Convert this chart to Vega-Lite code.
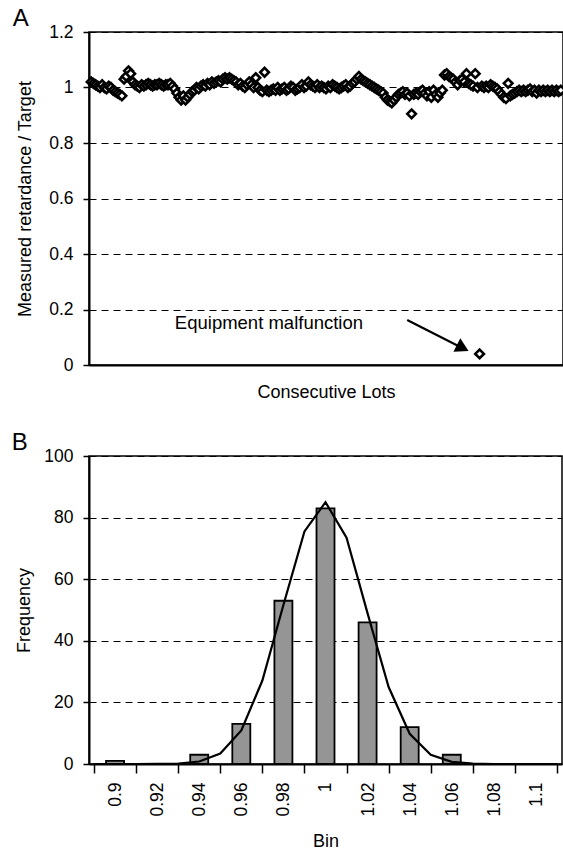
{
  "$schema": "https://vega.github.io/schema/vega-lite/v6.json",
  "background": "white",
  "padding": {"left": 11, "top": 6, "right": 1, "bottom": 2},
  "spacing": 28,
  "config": {
    "font": "Liberation Sans",
    "view": {"stroke": "black", "strokeWidth": 1.5},
    "axis": {
      "labelFont": "Liberation Sans", "titleFont": "Liberation Sans",
      "labelFontSize": 17.5, "titleFontSize": 18, "titleFontWeight": "normal",
      "labelColor": "black", "titleColor": "black",
      "domainColor": "black", "domainWidth": 2,
      "tickColor": "black", "tickWidth": 1.5, "tickSize": 6, "labelPadding": 10,
      "gridColor": "black", "gridDash": [7, 5], "gridWidth": 1
    },
    "title": {"font": "Liberation Sans", "fontSize": 24, "fontWeight": "normal", "anchor": "start", "color": "black", "frame": "bounds"}
  },
  "vconcat": [
    {
      "width": 474, "height": 333,
      "title": {"text": "A", "offset": -8, "dx": -4},
      "layer": [
        {
          "data": {"values": [
            {"lot":1,"ratio":1.02},{"lot":2,"ratio":1.015},{"lot":3,"ratio":1.01},{"lot":4,"ratio":1.005},{"lot":5,"ratio":1.0},
            {"lot":6,"ratio":1.01},{"lot":7,"ratio":1.0},{"lot":8,"ratio":0.995},{"lot":9,"ratio":1.005},{"lot":10,"ratio":1.0},
            {"lot":11,"ratio":0.99},{"lot":12,"ratio":0.985},{"lot":13,"ratio":0.98},{"lot":14,"ratio":0.975},{"lot":15,"ratio":0.97},
            {"lot":16,"ratio":1.03},{"lot":17,"ratio":1.04},{"lot":18,"ratio":1.06},{"lot":19,"ratio":1.05},{"lot":20,"ratio":1.02},
            {"lot":21,"ratio":1.01},{"lot":22,"ratio":1.005},{"lot":23,"ratio":1.0},{"lot":24,"ratio":1.01},{"lot":25,"ratio":1.005},
            {"lot":26,"ratio":1.01},{"lot":27,"ratio":1.015},{"lot":28,"ratio":1.01},{"lot":29,"ratio":1.005},{"lot":30,"ratio":1.01},
            {"lot":31,"ratio":1.01},{"lot":32,"ratio":1.015},{"lot":33,"ratio":1.01},{"lot":34,"ratio":1.005},{"lot":35,"ratio":1.01},
            {"lot":36,"ratio":1.01},{"lot":37,"ratio":1.015},{"lot":38,"ratio":1.005},{"lot":39,"ratio":0.995},{"lot":40,"ratio":0.98},
            {"lot":41,"ratio":0.965},{"lot":42,"ratio":0.955},{"lot":43,"ratio":0.97},{"lot":44,"ratio":0.955},{"lot":45,"ratio":0.965},
            {"lot":46,"ratio":0.975},{"lot":47,"ratio":0.985},{"lot":48,"ratio":0.99},{"lot":49,"ratio":1.0},{"lot":50,"ratio":0.995},
            {"lot":51,"ratio":1.005},{"lot":52,"ratio":1.01},{"lot":53,"ratio":1.005},{"lot":54,"ratio":1.015},{"lot":55,"ratio":1.01},
            {"lot":56,"ratio":1.02},{"lot":57,"ratio":1.015},{"lot":58,"ratio":1.02},{"lot":59,"ratio":1.025},{"lot":60,"ratio":1.02},
            {"lot":61,"ratio":1.03},{"lot":62,"ratio":1.035},{"lot":63,"ratio":1.03},{"lot":64,"ratio":1.035},{"lot":65,"ratio":1.03},
            {"lot":66,"ratio":1.025},{"lot":67,"ratio":1.02},{"lot":68,"ratio":1.01},{"lot":69,"ratio":1.015},{"lot":70,"ratio":1.005},
            {"lot":71,"ratio":1.0},{"lot":72,"ratio":1.01},{"lot":73,"ratio":1.02},{"lot":74,"ratio":1.01},{"lot":75,"ratio":1.0},
            {"lot":76,"ratio":1.035},{"lot":77,"ratio":1.0},{"lot":78,"ratio":0.99},{"lot":79,"ratio":0.985},{"lot":80,"ratio":1.055},
            {"lot":81,"ratio":0.99},{"lot":82,"ratio":0.985},{"lot":83,"ratio":0.99},{"lot":84,"ratio":0.995},{"lot":85,"ratio":0.99},
            {"lot":86,"ratio":1.0},{"lot":87,"ratio":0.99},{"lot":88,"ratio":0.995},{"lot":89,"ratio":1.0},{"lot":90,"ratio":0.99},
            {"lot":91,"ratio":0.995},{"lot":92,"ratio":1.005},{"lot":93,"ratio":1.0},{"lot":94,"ratio":0.99},{"lot":95,"ratio":0.995},
            {"lot":96,"ratio":1.0},{"lot":97,"ratio":1.01},{"lot":98,"ratio":1.0},{"lot":99,"ratio":1.005},{"lot":100,"ratio":1.02},
            {"lot":101,"ratio":1.01},{"lot":102,"ratio":1.005},{"lot":103,"ratio":1.0},{"lot":104,"ratio":1.01},{"lot":105,"ratio":1.0},
            {"lot":106,"ratio":1.005},{"lot":107,"ratio":1.0},{"lot":108,"ratio":0.995},{"lot":109,"ratio":1.005},{"lot":110,"ratio":1.0},
            {"lot":111,"ratio":1.01},{"lot":112,"ratio":1.005},{"lot":113,"ratio":1.0},{"lot":114,"ratio":0.995},{"lot":115,"ratio":1.0},
            {"lot":116,"ratio":1.005},{"lot":117,"ratio":1.01},{"lot":118,"ratio":1.0},{"lot":119,"ratio":1.005},{"lot":120,"ratio":1.015},
            {"lot":121,"ratio":1.02},{"lot":122,"ratio":1.03},{"lot":123,"ratio":1.04},{"lot":124,"ratio":1.03},{"lot":125,"ratio":1.025},
            {"lot":126,"ratio":1.02},{"lot":127,"ratio":1.015},{"lot":128,"ratio":1.01},{"lot":129,"ratio":1.005},{"lot":130,"ratio":1.0},
            {"lot":131,"ratio":0.995},{"lot":132,"ratio":0.99},{"lot":133,"ratio":0.985},{"lot":134,"ratio":0.98},{"lot":135,"ratio":0.965},
            {"lot":136,"ratio":0.955},{"lot":137,"ratio":0.95},{"lot":138,"ratio":0.945},{"lot":139,"ratio":0.955},{"lot":140,"ratio":0.965},
            {"lot":141,"ratio":0.975},{"lot":142,"ratio":0.98},{"lot":143,"ratio":0.985},{"lot":144,"ratio":0.975},{"lot":145,"ratio":0.98},
            {"lot":146,"ratio":0.97},{"lot":147,"ratio":0.905},{"lot":148,"ratio":0.975},{"lot":149,"ratio":0.98},{"lot":150,"ratio":0.975},
            {"lot":151,"ratio":0.985},{"lot":152,"ratio":0.99},{"lot":153,"ratio":0.98},{"lot":154,"ratio":0.97},{"lot":155,"ratio":0.985},
            {"lot":156,"ratio":0.965},{"lot":157,"ratio":0.99},{"lot":158,"ratio":0.975},{"lot":159,"ratio":0.965},{"lot":160,"ratio":0.98},
            {"lot":161,"ratio":0.99},{"lot":162,"ratio":1.045},{"lot":163,"ratio":1.05},{"lot":164,"ratio":1.04},{"lot":165,"ratio":1.035},
            {"lot":166,"ratio":1.03},{"lot":167,"ratio":1.02},{"lot":168,"ratio":1.01},{"lot":169,"ratio":1.025},{"lot":170,"ratio":1.03},
            {"lot":171,"ratio":1.02},{"lot":172,"ratio":1.05},{"lot":173,"ratio":1.015},{"lot":174,"ratio":1.01},{"lot":175,"ratio":1.005},
            {"lot":176,"ratio":1.05},{"lot":177,"ratio":1.0},{"lot":178,"ratio":0.04},{"lot":179,"ratio":1.005},{"lot":180,"ratio":1.0},
            {"lot":181,"ratio":1.005},{"lot":182,"ratio":1.0},{"lot":183,"ratio":1.01},{"lot":184,"ratio":1.005},{"lot":185,"ratio":1.0},
            {"lot":186,"ratio":0.995},{"lot":187,"ratio":0.985},{"lot":188,"ratio":0.975},{"lot":189,"ratio":0.965},{"lot":190,"ratio":0.96},
            {"lot":191,"ratio":1.015},{"lot":192,"ratio":0.97},{"lot":193,"ratio":0.975},{"lot":194,"ratio":0.98},{"lot":195,"ratio":0.985},
            {"lot":196,"ratio":0.99},{"lot":197,"ratio":0.985},{"lot":198,"ratio":0.99},{"lot":199,"ratio":0.985},{"lot":200,"ratio":0.99},
            {"lot":201,"ratio":0.995},{"lot":202,"ratio":0.985},{"lot":203,"ratio":0.99},{"lot":204,"ratio":0.98},{"lot":205,"ratio":0.99},
            {"lot":206,"ratio":0.985},{"lot":207,"ratio":0.99},{"lot":208,"ratio":0.985},{"lot":209,"ratio":0.99},{"lot":210,"ratio":0.985},
            {"lot":211,"ratio":0.99},{"lot":212,"ratio":0.985},{"lot":213,"ratio":0.99},{"lot":214,"ratio":0.985},{"lot":215,"ratio":0.99}
          ]},
          "mark": {"type": "point", "shape": "diamond", "filled": true, "fill": "white", "stroke": "black", "strokeWidth": 2.6, "size": 75, "opacity": 1},
          "encoding": {
            "x": {"field": "lot", "type": "quantitative", "scale": {"domain": [0, 216], "nice": false},
                  "axis": {"title": "Consecutive Lots", "labels": false, "ticks": false, "grid": false, "titlePadding": 18}},
            "y": {"field": "ratio", "type": "quantitative", "scale": {"domain": [0, 1.2], "nice": false},
                  "axis": {"values": [0, 0.2, 0.4, 0.6, 0.8, 1, 1.2], "format": ".1~f", "title": "Measured retardance / Target", "grid": true, "titlePadding": 14}}
          }
        },
        {
          "data": {"values": [{"lot": 82, "ratio": 0.151, "label": "Equipment malfunction"}]},
          "mark": {"type": "text", "fontSize": 18.5, "font": "Liberation Sans", "color": "black", "baseline": "middle", "align": "center"},
          "encoding": {
            "x": {"field": "lot", "type": "quantitative"},
            "y": {"field": "ratio", "type": "quantitative"},
            "text": {"field": "label"}
          }
        },
        {
          "data": {"values": [{"lot": 145, "ratio": 0.162, "lot2": 171, "ratio2": 0.058}]},
          "mark": {"type": "rule", "color": "black", "strokeWidth": 2.2},
          "encoding": {
            "x": {"field": "lot", "type": "quantitative"},
            "y": {"field": "ratio", "type": "quantitative"},
            "x2": {"field": "lot2"},
            "y2": {"field": "ratio2"}
          }
        },
        {
          "data": {"values": [{"lot": 170.3, "ratio": 0.061}]},
          "mark": {"type": "point", "shape": "triangle-right", "filled": true, "color": "black", "size": 230, "angle": 27, "opacity": 1},
          "encoding": {
            "x": {"field": "lot", "type": "quantitative"},
            "y": {"field": "ratio", "type": "quantitative"}
          }
        }
      ]
    },
    {
      "width": 473, "height": 308,
      "title": {"text": "B", "offset": -8, "dx": -4},
      "layer": [
        {
          "data": {"values": [
            {"bin": 0.90, "freq": 1}, {"bin": 0.92, "freq": 0}, {"bin": 0.94, "freq": 3}, {"bin": 0.96, "freq": 13},
            {"bin": 0.98, "freq": 53}, {"bin": 1.00, "freq": 83}, {"bin": 1.02, "freq": 46}, {"bin": 1.04, "freq": 12},
            {"bin": 1.06, "freq": 3}, {"bin": 1.08, "freq": 0}, {"bin": 1.10, "freq": 0}
          ]},
          "mark": {"type": "bar", "size": 18, "fill": "#959595", "stroke": "black", "strokeWidth": 1.8},
          "encoding": {
            "x": {"field": "bin", "type": "quantitative", "scale": {"domain": [0.89, 1.11], "nice": false, "zero": false},
                  "axis": {"values": [0.89, 0.91, 0.93, 0.95, 0.97, 0.99, 1.01, 1.03, 1.05, 1.07, 1.09, 1.11],
                           "labelExpr": "datum.value > 1.1 ? '' : format(datum.value + 0.01, '.2~f')",
                           "labelAngle": -90, "labelAlign": "right", "labelBaseline": "middle", "labelOffset": 21.5,
                           "labelFlush": false, "labelBound": false, "labelOverlap": false,
                           "tickSize": 9, "labelPadding": 9, "grid": false, "title": "Bin", "titlePadding": 16}},
            "y": {"field": "freq", "type": "quantitative", "scale": {"domain": [0, 100], "nice": false},
                  "axis": {"values": [0, 20, 40, 60, 80, 100], "title": "Frequency", "grid": true, "titlePadding": 10}}
          }
        },
        {
          "data": {"values": [
            {"x": 0.89, "fit": 0}, {"x": 0.90, "fit": 0}, {"x": 0.91, "fit": 0}, {"x": 0.92, "fit": 0.02},
            {"x": 0.93, "fit": 0.15}, {"x": 0.94, "fit": 0.8}, {"x": 0.95, "fit": 3.4}, {"x": 0.96, "fit": 10.9},
            {"x": 0.97, "fit": 27.1}, {"x": 0.98, "fit": 51.6}, {"x": 0.99, "fit": 75.5}, {"x": 1.00, "fit": 85},
            {"x": 1.01, "fit": 73.5}, {"x": 1.02, "fit": 48.9}, {"x": 1.03, "fit": 25}, {"x": 1.04, "fit": 9.8},
            {"x": 1.05, "fit": 3}, {"x": 1.06, "fit": 0.7}, {"x": 1.07, "fit": 0.1}, {"x": 1.08, "fit": 0},
            {"x": 1.09, "fit": 0}, {"x": 1.10, "fit": 0}, {"x": 1.11, "fit": 0}
          ]},
          "mark": {"type": "line", "color": "black", "strokeWidth": 2.2},
          "encoding": {
            "x": {"field": "x", "type": "quantitative"},
            "y": {"field": "fit", "type": "quantitative"}
          }
        }
      ]
    }
  ]
}
